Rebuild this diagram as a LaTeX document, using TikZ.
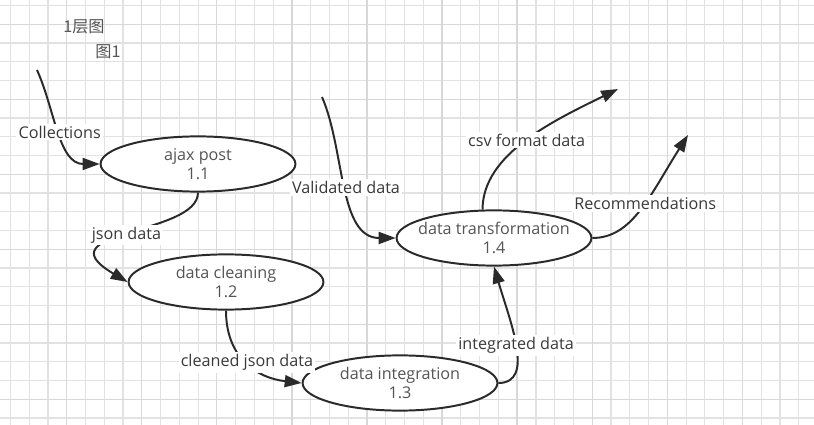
\documentclass[tikz,border=0pt]{standalone}
\usepackage{fontspec}
\setmainfont{Open Sans}
\newfontfamily\cjk{Noto Sans CJK SC}
\usetikzlibrary{shapes.geometric,arrows.meta}
\definecolor{inkc}{HTML}{2A2A2A}
\definecolor{nodetxt}{HTML}{555555}
\definecolor{lbltxt}{HTML}{3A3A3A}
\definecolor{gridlo}{HTML}{E2E2E2}
\definecolor{gridhi}{HTML}{D8D8D8}
\begin{document}
\begin{tikzpicture}[x=0.025cm, y=-0.025cm,
    font=\fontsize{11.5}{13.7}\selectfont,
    proc/.style={ellipse, draw=inkc, line width=1.4pt, fill=white, text=nodetxt,
      align=center, minimum width=4.87cm, minimum height=1.38cm,
      inner xsep=-5pt, inner ysep=-3pt},
    flow/.style={draw=inkc, line width=1.4pt, -{Triangle[length=12pt,width=8.5pt]}},
    lbl/.style={fill=white, text=lbltxt, inner sep=1.5pt},
    title/.style={text=nodetxt},
    gridminor/.style={draw=gridlo, line width=0.8pt},
    gridmajor/.style={draw=gridhi, line width=0.9pt}]
    % Page and grid
    \useasboundingbox (0,0) rectangle (814,425);
    \fill[white] (0,0) rectangle (814,425);
    \foreach \i in {0,...,42}
        \draw[gridminor] ({10.4+18.77*\i},0) -- ({10.4+18.77*\i},425);
    \foreach \j in {0,...,22}
        \draw[gridminor] (0,{5.55+18.75*\j}) -- (814,{5.55+18.75*\j});
    \foreach \i in {0,...,9}
        \draw[gridmajor] ({66.7+75.07*\i},0) -- ({66.7+75.07*\i},425);
    \foreach \j in {0,...,5}
        \draw[gridmajor] (0,{24.3+75*\j}) -- (814,{24.3+75*\j});
    % Titles
    \node[title] (t1) at (84,27) {\cjk 1层图};
    \node[title] (t2) at (108,52) {\cjk 图1};
    % Processes
    \node[proc] (p11) at (198,164) {ajax post\\1.1};
    \node[proc] (p12) at (226,282) {data cleaning\\1.2};
    \node[proc] (p13) at (400,383) {data integration\\1.3};
    \node[proc] (p14) at (494,238) {data transformation\\1.4};
    % Free ends
    \coordinate (inCol) at (37,70);
    \coordinate (inVal) at (322,97);
    \coordinate (outCsv) at (618,89);
    \coordinate (outRec) at (688,135);
    % Data flows
    \draw[flow] (inCol) .. controls +(18,40) and +(-41,0) .. (p11.west) node[lbl,pos=0.5] {Collections};
    \draw[flow] (p11.south) .. controls +(0,43) and +(-88,-52) .. (p12.west) node[lbl,pos=0.52] {json data};
    \draw[flow] (p12.south) .. controls +(0,47) and +(-45,-5) .. (p13.west) node[lbl,pos=0.5] {cleaned json data};
    \draw[flow] (p13.east) .. controls +(37,0) and +(16,55) .. (p14.south) node[lbl,pos=0.5] {integrated data};
    \draw[flow] (inVal) .. controls +(23,53) and +(-57,0) .. (p14.west) node[lbl,pos=0.5] {Validated data};
    \draw[flow] (p14.112) .. controls +(0,-56) and +(-63,31) .. (outCsv) node[lbl,pos=0.5] {csv format data};
    \draw[flow] (p14.east) .. controls +(40,0) and +(-38,60) .. (outRec) node[lbl,pos=0.55] {Recommendations};
\end{tikzpicture}
\end{document}
